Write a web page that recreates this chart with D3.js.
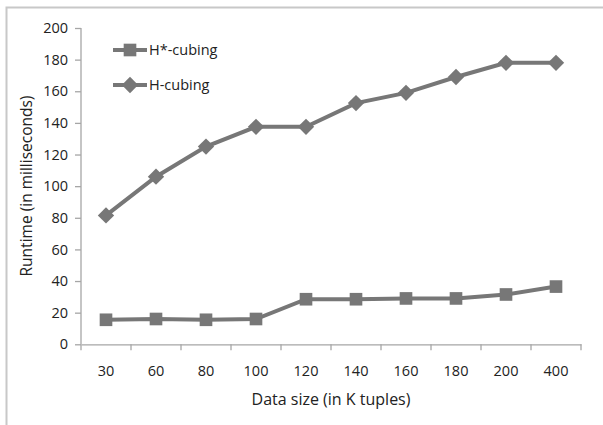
<!DOCTYPE html>
<html><head><meta charset="utf-8">
<script src="https://cdn.jsdelivr.net/npm/d3@7"></script>
<style>body{margin:0;background:#fff}svg{display:block}</style>
</head><body>
<script>
const categories = ["30","60","80","100","120","140","160","180","200","400"];
const hStarCubing = [15.5, 16, 15.5, 16, 28.5, 28.5, 29, 29, 31.5, 36.5];
const hCubing = [81.5, 106, 125, 137.5, 137.5, 152.5, 159, 169, 178, 178];
const yTicks = [0,20,40,60,80,100,120,140,160,180,200];
const seriesNames = ["H*-cubing","H-cubing"];

const W=603,H=425;
const svg=d3.select("body").append("svg").attr("width",W).attr("height",H);
const font="'Open Sans', 'DejaVu Sans', sans-serif";
svg.append("path").attr("d",`M6.5,${H} V7.5 H${W}`).attr("fill","none").attr("stroke","#c8c8c8").attr("stroke-width",2);

const x=d3.scaleBand().domain(categories).range([81,581]);
const y=d3.scaleLinear().domain([0,200]).range([344.3,28]);
const axisColor="#a6a6a6";

const gx=svg.append("g").attr("transform","translate(0,344.3)")
  .call(d3.axisBottom(x).tickSize(0).tickPadding(21));
gx.select(".domain").attr("stroke",axisColor).attr("stroke-width",1.3);
gx.selectAll("text").attr("font-family",font).attr("font-size",14.5).attr("fill","#222");
const bounds=categories.map(c=>x(c)).concat([x(categories[categories.length-1])+x.bandwidth()]);
gx.selectAll(".btick").data(bounds).enter().append("line").attr("class","btick")
  .attr("x1",d=>d).attr("x2",d=>d).attr("y1",0).attr("y2",6).attr("stroke",axisColor).attr("stroke-width",1.3);

const gy=svg.append("g").attr("transform","translate(81,0)")
  .call(d3.axisLeft(y).tickValues(yTicks).tickSize(6).tickPadding(7));
gy.select(".domain").attr("stroke",axisColor).attr("stroke-width",1.3).attr("d","M0,28V344.3");
gy.selectAll(".tick line").attr("stroke",axisColor).attr("stroke-width",1.3);
gy.selectAll("text").attr("font-family",font).attr("font-size",14.5).attr("fill","#222");

svg.append("text").attr("x",331).attr("y",405).attr("text-anchor","middle")
  .attr("font-family",font).attr("font-size",16).attr("fill","#222").text("Data size (in K tuples)");
svg.append("text").attr("transform","translate(32,186) rotate(-90)").attr("text-anchor","middle")
  .attr("font-family",font).attr("font-size",15.5).attr("fill","#222").text("Runtime (in milliseconds)");

const col="#777777";
const cx=c=>x(c)+x.bandwidth()/2;
const line=d3.line().x((d,i)=>cx(categories[i])).y(d=>y(d));
svg.append("path").datum(hStarCubing).attr("d",line).attr("fill","none").attr("stroke",col).attr("stroke-width",4);
svg.append("path").datum(hCubing).attr("d",line).attr("fill","none").attr("stroke",col).attr("stroke-width",4);
const sq=d3.symbol().type(d3.symbolSquare).size(160);
const dm=d3.symbol().type(d3.symbolDiamond2).size(170);
svg.selectAll(".sq").data(hStarCubing).enter().append("path").attr("d",sq)
  .attr("transform",(d,i)=>`translate(${cx(categories[i])},${y(d)})`).attr("fill",col);
svg.selectAll(".dm").data(hCubing).enter().append("path").attr("d",dm)
  .attr("transform",(d,i)=>`translate(${cx(categories[i])},${y(d)})`).attr("fill",col);

const leg=[{n:seriesNames[0],s:sq,y:50},{n:seriesNames[1],s:dm,y:85}];
leg.forEach(l=>{
  svg.append("line").attr("x1",113).attr("x2",147).attr("y1",l.y).attr("y2",l.y).attr("stroke",col).attr("stroke-width",4);
  svg.append("path").attr("d",l.s).attr("transform",`translate(130,${l.y})`).attr("fill",col);
  svg.append("text").attr("x",149).attr("y",l.y+5).attr("font-family",font).attr("font-size",14.5).attr("fill","#222").text(l.n);
});
</script>
</body></html>
